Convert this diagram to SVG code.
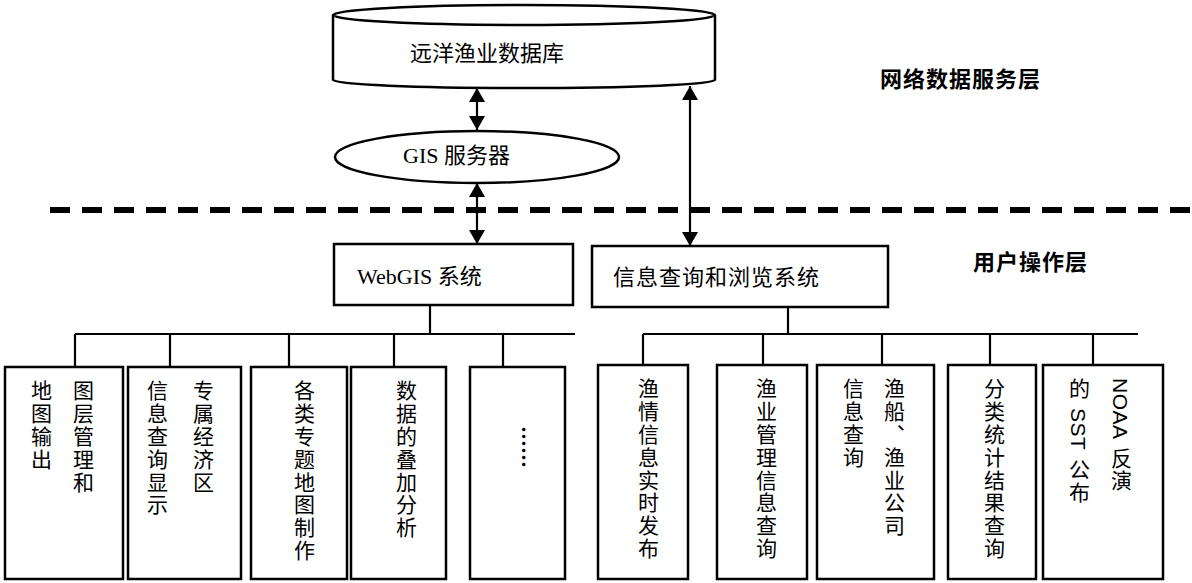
<svg xmlns="http://www.w3.org/2000/svg" width="1192" height="583" viewBox="0 0 1192 583">
<style>
.shape{fill:#fff;stroke:#000;stroke-width:2.5}
.line{fill:none;stroke:#000;stroke-width:2.2}
.lbl{font-family:"Liberation Serif","Noto Sans CJK SC",serif;font-size:22px;fill:#000}
.layer{font-family:"Liberation Sans","Noto Sans CJK SC",sans-serif;font-size:22px;font-weight:bold;fill:#000;letter-spacing:1px}
.vt{font-family:"Liberation Sans","Noto Sans CJK SC",sans-serif;font-size:21px;fill:#000;writing-mode:vertical-rl;letter-spacing:1.8px}
.lat{letter-spacing:0.5px}
.dots{font-family:"Noto Sans CJK SC",sans-serif;font-size:21px;font-weight:bold;fill:#000;writing-mode:vertical-rl}
</style>
<defs>
<marker id="ah" viewBox="0 0 14 16" refX="14" refY="8" markerWidth="14" markerHeight="16" markerUnits="userSpaceOnUse" orient="auto-start-reverse">
<path d="M0,0 L14,8 L0,16 z" fill="#000"/>
</marker>
</defs>
<rect width="1192" height="583" fill="#fff"/>

<g id="database">
<path class="shape" d="M333,15 L333,80 A191,8 0 0 0 715,80 L715,15"/>
<ellipse class="shape" cx="524" cy="15" rx="191" ry="10"/>
<text class="lbl" x="410" y="61">远洋渔业数据库</text>
</g>

<g id="gis-server">
<ellipse class="shape" cx="477" cy="157" rx="142" ry="26"/>
<text class="lbl" x="403" y="163">GIS 服务器</text>
</g>

<g id="separator">
<line x1="50" y1="210" x2="1192" y2="210" stroke="#000" stroke-width="6" stroke-dasharray="20 12"/>
</g>

<g id="layer-labels">
<text class="layer" x="880" y="87">网络数据服务层</text>
<text class="layer" x="973" y="270">用户操作层</text>
</g>

<g id="webgis">
<rect class="shape" x="334" y="244" width="239" height="61"/>
<text class="lbl" x="357" y="284">WebGIS 系统</text>
</g>

<g id="info-system">
<rect class="shape" x="592" y="246" width="296" height="61"/>
<text class="lbl" x="613" y="285" style="letter-spacing:1px">信息查询和浏览系统</text>
</g>

<g id="connectors">
<line class="line" x1="477" y1="88" x2="477" y2="130" marker-start="url(#ah)" marker-end="url(#ah)"/>
<line class="line" x1="477" y1="183" x2="477" y2="244" marker-start="url(#ah)" marker-end="url(#ah)"/>
<line class="line" x1="690" y1="86" x2="690" y2="246" marker-start="url(#ah)" marker-end="url(#ah)"/>
<path class="line" d="M430,305 V334 M75,334 H575 M75,334 V367 M170,334 V367 M289,334 V367 M394,334 V367 M503,334 V367"/>
<path class="line" d="M788,307 V334 M643,334 H1138 M643,334 V365 M763,334 V365 M882,334 V365 M990,334 V365 M1093,334 V365"/>
</g>

<g id="box-layer-map">
<rect class="shape" x="5" y="367" width="118" height="212"/>
<text class="vt" x="82" y="380">图层管理和</text>
<text class="vt" x="40" y="380">地图输出</text>
</g>
<g id="box-eez">
<rect class="shape" x="128" y="367" width="113" height="212"/>
<text class="vt" x="202" y="380">专属经济区</text>
<text class="vt" x="156" y="380">信息查询显示</text>
</g>
<g id="box-thematic">
<rect class="shape" x="251" y="367" width="96" height="212"/>
<text class="vt" x="303" y="380">各类专题地图制作</text>
</g>
<g id="box-overlay">
<rect class="shape" x="351" y="367" width="95" height="212"/>
<text class="vt" x="405" y="380">数据的叠加分析</text>
</g>
<g id="box-more">
<rect class="shape" x="470" y="367" width="95" height="212"/>
<text class="dots" x="525" y="426">……</text>
</g>

<g id="box-fishing-info">
<rect class="shape" x="598" y="365" width="90" height="214"/>
<text class="vt" x="647" y="378">渔情信息实时发布</text>
</g>
<g id="box-fishery-mgmt">
<rect class="shape" x="717" y="365" width="90" height="214"/>
<text class="vt" x="765" y="378">渔业管理信息查询</text>
</g>
<g id="box-vessel">
<rect class="shape" x="817" y="365" width="117" height="214"/>
<text class="vt" x="893" y="378">渔船、渔业公司</text>
<text class="vt" x="852" y="378">信息查询</text>
</g>
<g id="box-stats">
<rect class="shape" x="948" y="365" width="88" height="214"/>
<text class="vt" x="993" y="378">分类统计结果查询</text>
</g>
<g id="box-sst">
<rect class="shape" x="1043" y="365" width="120" height="214"/>
<text class="vt" x="1120" y="378"><tspan class="lat">NOAA</tspan> 反演</text>
<text class="vt" x="1078" y="378">的 <tspan class="lat">SST</tspan> 公布</text>
</g>
</svg>
